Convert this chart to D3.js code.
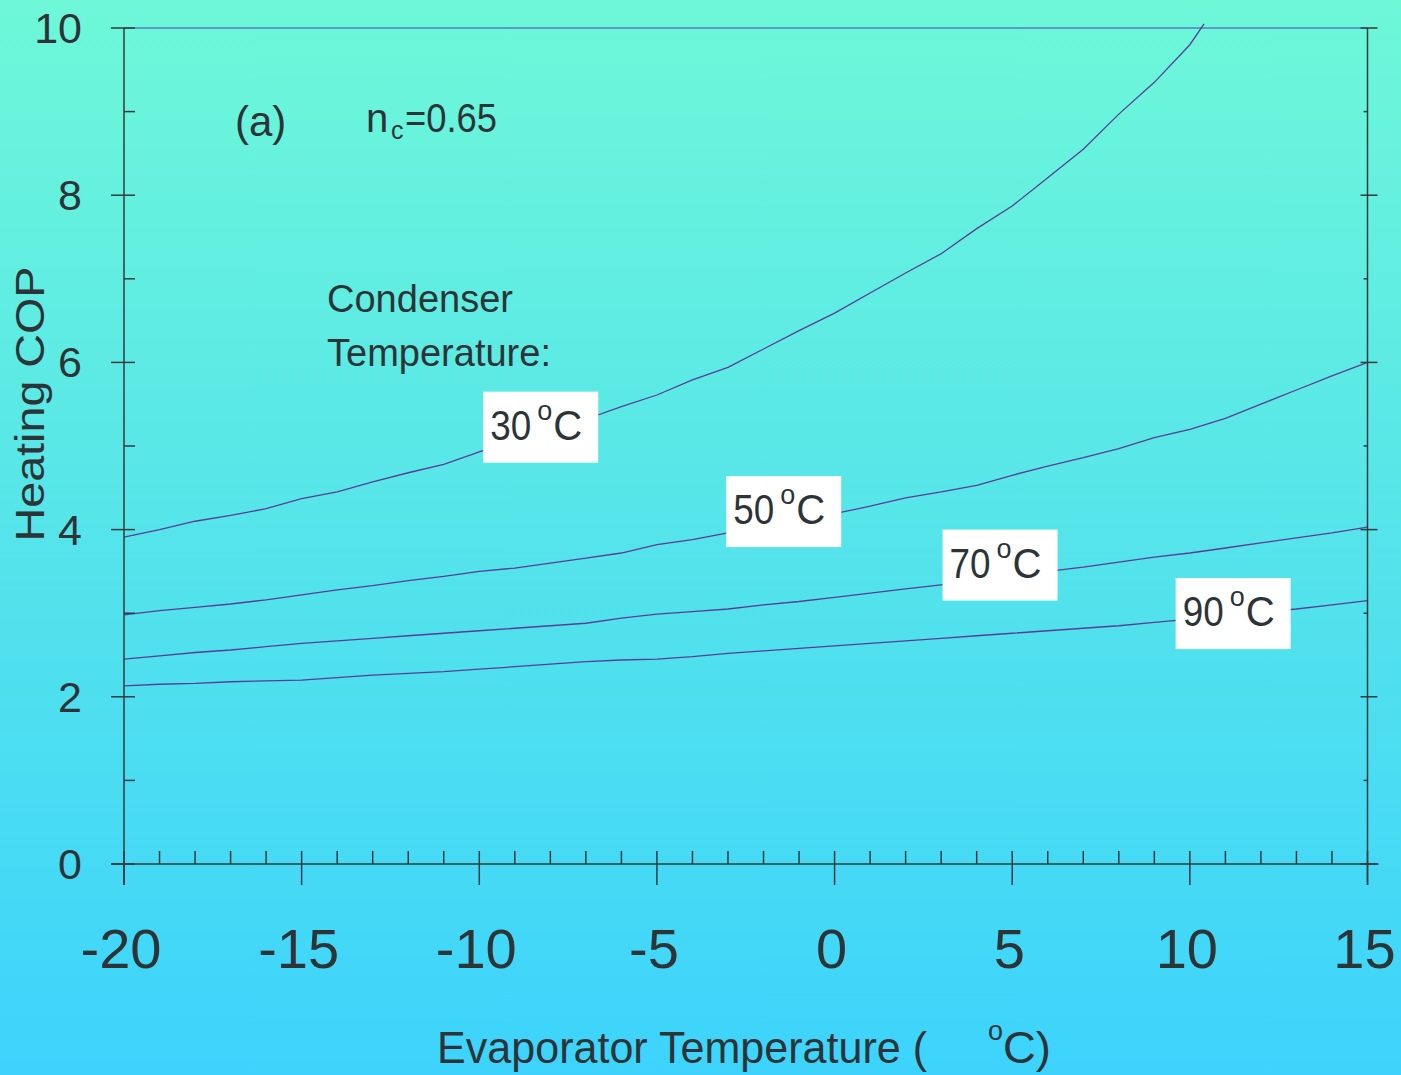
<!DOCTYPE html>
<html>
<head>
<meta charset="utf-8">
<title>Heating COP</title>
<script src="https://d3js.org/d3.v7.min.js"></script>
<style>
  body { margin: 0; overflow: hidden; }
  svg { display: block; font-family: "Liberation Sans", Arial, sans-serif; }
</style>
</head>
<body>
<svg></svg>
<script>

// evaporator temperature (degC) for each curve
const evapFull = [-20,-19,-18,-17,-16,-15,-14,-13,-12,-11,-10,-9,-8,-7,-6,-5,-4,-3,-2,-1,0,1,2,3,4,5,6,7,8,9,10,11,12,13,14,15];
const evap30 = [-20,-19,-18,-17,-16,-15,-14,-13,-12,-11,-10,-9,-8,-7,-6,-5,-4,-3,-2,-1,0,1,2,3,4,5,6,7,8,9,10,10.4];

// heating COP per condenser temperature
const cop30 = [3.91,4.00,4.10,4.17,4.25,4.37,4.45,4.57,4.68,4.78,4.93,5.07,5.20,5.32,5.47,5.61,5.79,5.94,6.16,6.38,6.59,6.83,7.07,7.30,7.60,7.87,8.21,8.55,8.97,9.35,9.80,10.05];
const cop50 = [2.98,3.03,3.07,3.11,3.16,3.22,3.28,3.33,3.39,3.44,3.50,3.54,3.60,3.66,3.72,3.82,3.88,3.96,4.03,4.11,4.19,4.28,4.38,4.45,4.53,4.65,4.76,4.86,4.97,5.10,5.20,5.33,5.50,5.67,5.84,6.00];
const cop70 = [2.45,2.49,2.53,2.56,2.60,2.64,2.67,2.70,2.73,2.76,2.79,2.82,2.85,2.88,2.94,2.99,3.02,3.05,3.10,3.14,3.19,3.24,3.29,3.34,3.39,3.44,3.50,3.55,3.61,3.67,3.72,3.78,3.84,3.90,3.96,4.03];
const cop90 = [2.13,2.15,2.16,2.18,2.19,2.20,2.23,2.26,2.28,2.30,2.33,2.36,2.39,2.42,2.44,2.45,2.48,2.52,2.55,2.58,2.61,2.64,2.67,2.70,2.73,2.76,2.79,2.82,2.85,2.89,2.93,2.97,3.01,3.05,3.10,3.15];

const condLabels = ["30", "50", "70", "90"];
const xTickLabels = ["-20", "-15", "-10", "-5", "0", "5", "10", "15"];
const yTickLabels = ["0", "2", "4", "6", "8", "10"];

const width = 1401, height = 1075;
const textColor = "#2d3437";
const axisColor = "#333a3e";
const lineColor = "#5a3c98";

const svg = d3.select("svg")
    .attr("width", width)
    .attr("height", height);

// background gradient
const grad = svg.append("defs").append("linearGradient")
    .attr("id", "bg")
    .attr("x1", 0).attr("y1", 0).attr("x2", 0).attr("y2", 1);
grad.append("stop").attr("offset", "0%").attr("stop-color", "#6ef8d8");
grad.append("stop").attr("offset", "50%").attr("stop-color", "#55e4ea");
grad.append("stop").attr("offset", "100%").attr("stop-color", "#3dd3fc");
svg.append("rect")
    .attr("width", width)
    .attr("height", height)
    .attr("fill", "url(#bg)");

const x = d3.scaleLinear().domain([-20, 15]).range([124, 1367.5]);
const y = d3.scaleLinear().domain([0, 10]).range([864, 28]);

const x0 = x(-20), x1 = x(15), y0 = y(0), yTop = y(10);

// top border line
svg.append("line")
    .attr("x1", x0).attr("x2", x1)
    .attr("y1", yTop).attr("y2", yTop)
    .attr("stroke", "#4f7fc4")
    .attr("stroke-width", 1.5);

// curves
const series = [
  { name: condLabels[0], xs: evap30, ys: cop30, box: [-9.89, 5.65] },
  { name: condLabels[1], xs: evapFull, ys: cop50, box: [-3.05, 4.64] },
  { name: condLabels[2], xs: evapFull, ys: cop70, box: [3.04, 4.00] },
  { name: condLabels[3], xs: evapFull, ys: cop90, box: [9.60, 3.42] }
];

const line = d3.line()
    .x(d => x(d[0]))
    .y(d => y(d[1]));

svg.selectAll(".curve")
    .data(series)
    .join("path")
      .attr("class", "curve")
      .attr("d", s => line(s.xs.map((v, i) => [v, s.ys[i]])))
      .attr("fill", "none")
      .attr("stroke", lineColor)
      .attr("stroke-width", 1.3);

// axes
const ax = svg.append("g")
    .attr("stroke", axisColor)
    .attr("stroke-width", 1.5);

ax.append("line")
    .attr("x1", x0 - 13).attr("x2", x1 + 11)
    .attr("y1", y0).attr("y2", y0);
ax.append("line")
    .attr("x1", x0).attr("x2", x0)
    .attr("y1", yTop).attr("y2", y0 + 21);
ax.append("line")
    .attr("x1", x1).attr("x2", x1)
    .attr("y1", yTop).attr("y2", y0 + 21);

// x ticks
x.ticks(35).forEach(v => {
  const major = v % 5 === 0;
  ax.append("line")
      .attr("x1", x(v)).attr("x2", x(v))
      .attr("y1", y0 - 13)
      .attr("y2", major ? y0 + 21 : y0);
});

// y ticks, left and right
y.ticks(10).forEach(v => {
  const major = v % 2 === 0;
  ax.append("line")
      .attr("x1", major ? x0 - 13 : x0).attr("x2", x0 + 11)
      .attr("y1", y(v)).attr("y2", y(v));
  ax.append("line")
      .attr("x1", major ? x1 - 7 : x1 - 4).attr("x2", major ? x1 + 10 : x1)
      .attr("y1", y(v)).attr("y2", y(v));
});

// tick labels
svg.append("g")
  .selectAll("text")
  .data(xTickLabels)
  .join("text")
    .attr("x", d => x(+d) - 3)
    .attr("y", 968)
    .attr("text-anchor", "middle")
    .attr("font-size", 56)
    .attr("fill", textColor)
    .text(d => d);

svg.append("g")
  .selectAll("text")
  .data(yTickLabels)
  .join("text")
    .attr("x", 82)
    .attr("y", d => y(+d))
    .attr("dy", "0.35em")
    .attr("text-anchor", "end")
    .attr("font-size", 43)
    .attr("fill", textColor)
    .text(d => d);

// axis titles
svg.append("text")
    .attr("transform", "translate(44,404) rotate(-90)")
    .attr("text-anchor", "middle")
    .attr("font-size", 40)
    .attr("textLength", 275)
    .attr("lengthAdjust", "spacingAndGlyphs")
    .attr("fill", textColor)
    .text("Heating COP");

const xt = svg.append("g").attr("fill", textColor);
xt.append("text")
    .attr("x", 437).attr("y", 1063)
    .attr("font-size", 44)
    .attr("textLength", 490)
    .attr("lengthAdjust", "spacingAndGlyphs")
    .text("Evaporator Temperature (");
xt.append("text")
    .attr("x", 988).attr("y", 1040)
    .attr("font-size", 27)
    .text("o");
xt.append("text")
    .attr("x", 1003).attr("y", 1063)
    .attr("font-size", 44)
    .attr("textLength", 48)
    .attr("lengthAdjust", "spacingAndGlyphs")
    .text("C)");

// annotations
const ann = svg.append("g").attr("fill", textColor);
ann.append("text")
    .attr("x", 235).attr("y", 136)
    .attr("font-size", 42)
    .text("(a)");
ann.append("text")
    .attr("x", 366).attr("y", 132)
    .attr("font-size", 40)
    .text("n");
ann.append("text")
    .attr("x", 391).attr("y", 139)
    .attr("font-size", 25)
    .text("c");
ann.append("text")
    .attr("x", 405).attr("y", 132)
    .attr("font-size", 40)
    .attr("textLength", 92)
    .attr("lengthAdjust", "spacingAndGlyphs")
    .text("=0.65");
ann.append("text")
    .attr("x", 327).attr("y", 312)
    .attr("font-size", 39)
    .attr("textLength", 186)
    .attr("lengthAdjust", "spacingAndGlyphs")
    .text("Condenser");
ann.append("text")
    .attr("x", 327).attr("y", 366)
    .attr("font-size", 39)
    .attr("textLength", 224)
    .attr("lengthAdjust", "spacingAndGlyphs")
    .text("Temperature:");

// curve labels in white boxes
const boxW = 115, boxH = 71;
const lab = svg.selectAll(".lab")
    .data(series)
    .join("g")
      .attr("class", "lab")
      .attr("transform", s => `translate(${x(s.box[0])},${y(s.box[1])})`);

lab.append("rect")
    .attr("width", boxW)
    .attr("height", boxH)
    .attr("fill", "#ffffff");
lab.append("text")
    .attr("x", 7).attr("y", 48)
    .attr("font-size", 43)
    .attr("textLength", 41)
    .attr("lengthAdjust", "spacingAndGlyphs")
    .attr("fill", textColor)
    .text(s => s.name);
lab.append("text")
    .attr("x", 54).attr("y", 28)
    .attr("font-size", 27)
    .attr("fill", textColor)
    .text("o");
lab.append("text")
    .attr("x", 70).attr("y", 48)
    .attr("font-size", 43)
    .attr("textLength", 29)
    .attr("lengthAdjust", "spacingAndGlyphs")
    .attr("fill", textColor)
    .text("C");

</script>
</body>
</html>
